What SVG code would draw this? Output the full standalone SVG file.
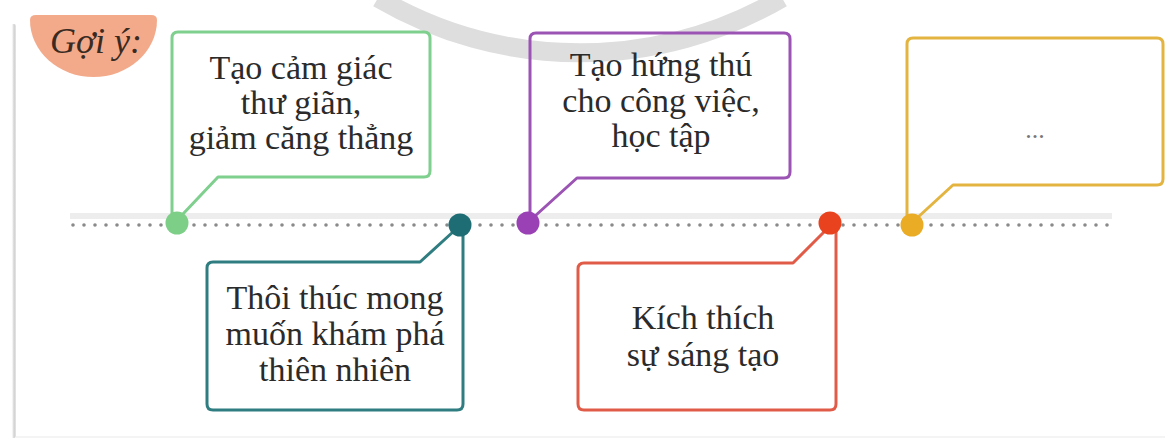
<svg xmlns="http://www.w3.org/2000/svg" width="1165" height="440" viewBox="0 0 1165 440">
  <defs>
    <linearGradient id="lshadow" x1="0" y1="0" x2="1" y2="0">
      <stop offset="0" stop-color="#ffffff" stop-opacity="0"/>
      <stop offset="0.6" stop-color="#cfcfcf"/>
      <stop offset="1" stop-color="#e6e6e6"/>
    </linearGradient>
  </defs>
  <style>
    .txt { font-family: "Liberation Serif", "Times New Roman", serif; font-size: 34px; fill: #2b2b2b; text-anchor: middle; }
    .box { fill: none; stroke-width: 3; stroke-linejoin: round; stroke-linecap: round; }
    .dot { stroke: none; }
  </style>

  <!-- background card -->
  <rect x="0" y="0" width="1165" height="440" fill="#ffffff"/>
  <rect x="11" y="24" width="5" height="414" rx="2" fill="url(#lshadow)"/>
  <line x1="16" y1="437" x2="1165" y2="437" stroke="#f0f0f0" stroke-width="1.5"/>

  <!-- decorative gray arc -->
  <path d="M 378,-2 A 400,400 0 0 0 782,-2" fill="none" stroke="#dedede" stroke-width="19"/>

  <!-- badge -->
  <g id="badge">
    <path d="M30,20 Q30,15 36,15 H151 Q157,15 157,20 A63.5,57 0 0 1 30,20 Z" fill="#f3aa8a"/>
    <text x="96" y="53" font-family="'Liberation Serif', 'Times New Roman', serif" font-style="italic" font-size="36" fill="#3a2a22" text-anchor="middle">Gợi ý:</text>
  </g>

  <!-- timeline -->
  <g id="connectors">
    <rect x="70" y="213" width="1042" height="6" fill="#ededed"/>
    <line x1="73" y1="225" x2="1108" y2="225" stroke="#8a8a8a" stroke-width="3.6" stroke-linecap="round" stroke-dasharray="0 11"/>
  </g>

  <g id="node-green">
    <path class="box" stroke="#7fcf8e" d="M172,223 V38 Q172,32 178,32 H424 Q430,32 430,38 V171 Q430,177 424,177 H218 L182,215"/>
    <circle class="dot" cx="177" cy="223" r="11.5" fill="#7dcf87"/>
    <text class="txt"><tspan x="301" y="79">Tạo cảm giác</tspan><tspan x="301" y="114">thư giãn,</tspan><tspan x="301" y="149">giảm căng thẳng</tspan></text>
  </g>

  <g id="node-teal">
    <path class="box" stroke="#2f7d80" d="M463,225 V404 Q463,410 457,410 H213 Q207,410 207,404 V268 Q207,262 213,262 H420 L454,231"/>
    <circle class="dot" cx="460" cy="225" r="11.5" fill="#1f6d74"/>
    <text class="txt"><tspan x="335" y="309">Thôi thúc mong</tspan><tspan x="335" y="345">muốn khám phá</tspan><tspan x="335" y="381">thiên nhiên</tspan></text>
  </g>

  <g id="node-purple">
    <path class="box" stroke="#9b54b3" d="M530,223 V39 Q530,33 536,33 H784 Q790,33 790,39 V172 Q790,178 784,178 H577 L535,216"/>
    <circle class="dot" cx="528" cy="223" r="11.5" fill="#9a42b5"/>
    <text class="txt"><tspan x="661" y="76">Tạo hứng thú</tspan><tspan x="661" y="112">cho công việc,</tspan><tspan x="661" y="147">học tập</tspan></text>
  </g>

  <g id="node-red">
    <path class="box" stroke="#e05c48" d="M836,223 V404 Q836,410 830,410 H584 Q578,410 578,404 V269 Q578,263 584,263 H793 L825,231"/>
    <circle class="dot" cx="830" cy="223" r="11.5" fill="#e8431e"/>
    <text class="txt"><tspan x="703" y="329">Kích thích</tspan><tspan x="703" y="366">sự sáng tạo</tspan></text>
  </g>

  <g id="node-yellow">
    <path class="box" stroke="#e3b440" d="M907,225 V44 Q907,38 913,38 H1157 Q1163,38 1163,44 V179 Q1163,185 1157,185 H953 L916,219"/>
    <circle class="dot" cx="912" cy="225" r="11.5" fill="#eaab25"/>
    <text x="1035" y="138" font-family="'Liberation Serif', 'Times New Roman', serif" font-size="26" fill="#777777" text-anchor="middle">...</text>
  </g>
</svg>
